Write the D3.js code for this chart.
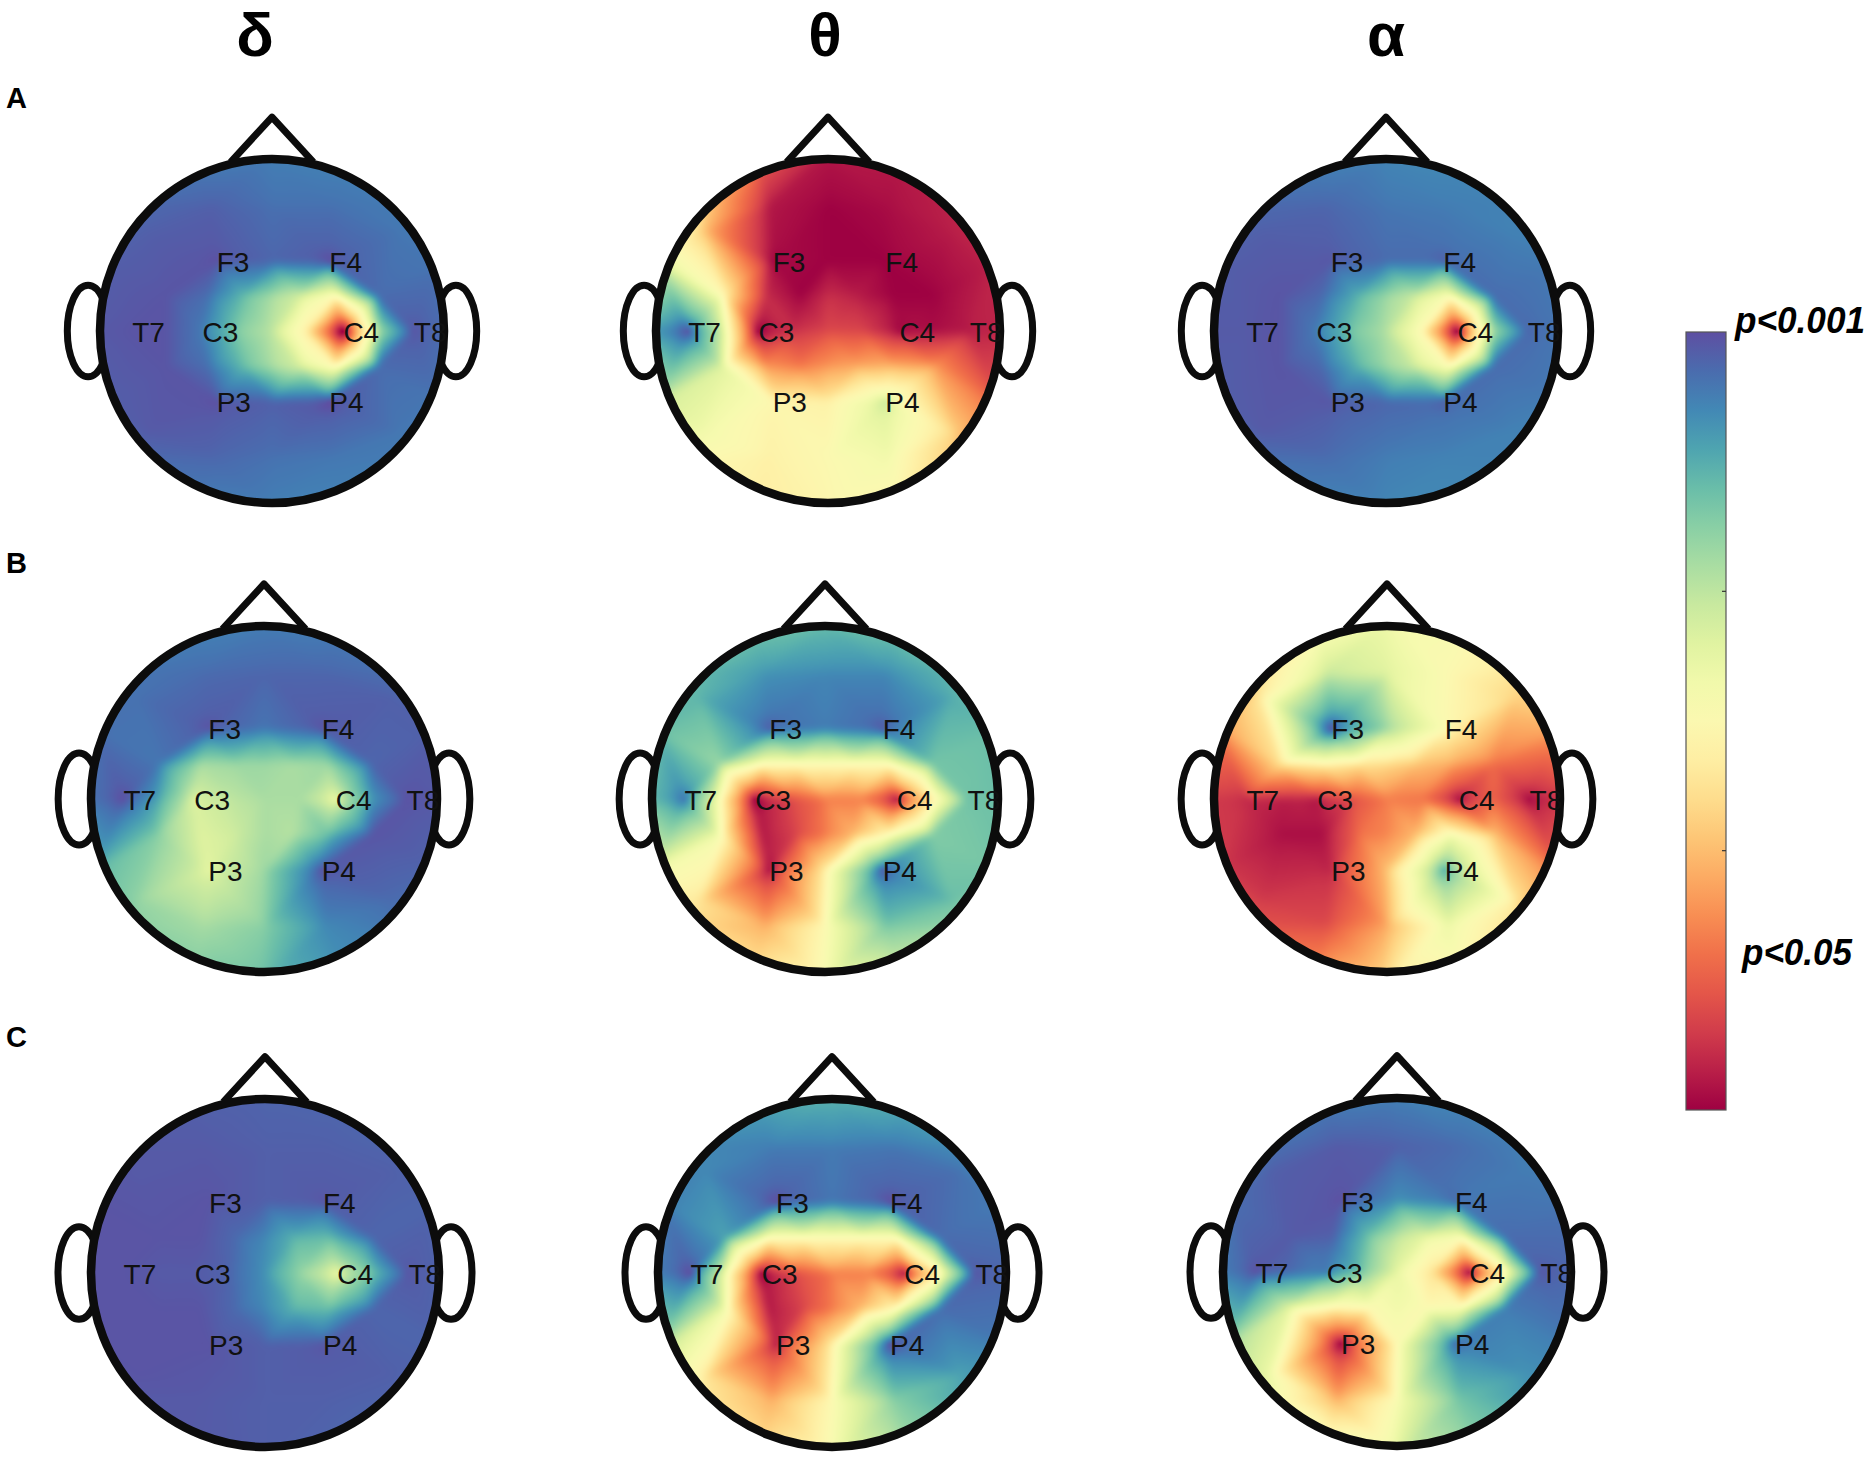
<!DOCTYPE html>
<html><head><meta charset="utf-8">
<script src="https://cdn.jsdelivr.net/npm/d3@7"></script>
<style>html,body{margin:0;padding:0;background:#fff}svg{display:block}text{font-family:"Liberation Sans",Arial,sans-serif}</style>
</head><body><svg id="c" width="1873" height="1465"></svg>
<script>
// band titles, row letters, electrodes
const bands = ["δ","θ","α"];
const rows = ["A","B","C"];
const electrodes = ["T7","C3","C4","T8","F3","F4","P3","P4"];
const ticks = [1/3,2/3];
// sampling sites on the scalp, head radius = 1 (8 electrodes first, then read-off sites)
const sites = [[-.8,0],[-.4,0],[.4,0],[.8,0],[-.32,-.4],[.32,-.4],[-.32,.4],[.32,.4],
 [-.2,0],[0,0],[.2,0],[0,-.4],[0,.4],
 [-.71,-.57],[-.34,-.71],[0,-.71],[.34,-.71],[.71,-.57],
 [-.71,.57],[-.34,.71],[0,.71],[.34,.71],[.71,.57],
 [-.36,-.2],[-.16,-.2],[0,-.2],[.16,-.2],[.36,-.2],
 [-.36,.2],[-.16,.2],[0,.2],[.16,.2],[.36,.2],
 [-.6,-.2],[-.6,.2],[.6,-.2],[.6,.2],[-.6,0],[.6,0],
 [0,-1.03],[.394,-.952],[.728,-.728],[.952,-.394],[1.03,0],[.952,.394],[.728,.728],[.394,.952],
 [0,1.03],[-.394,.952],[-.728,.728],[-.952,.394],[-1.03,0],[-.952,-.394],[-.728,-.728],[-.394,-.952]];
const rimStart = 39;
// map values (0 = dark red end of colour bar, 1 = purple end), same order as sites
const mapA_delta=[.99,.92,0,.98,.99,.98,.99,.99, .76,.66,.42,.96,.97, .97,.97,.94,.94,.93, .98,.96,.94,.93,.93, .94,.8,.7,.62,.48, .94,.8,.7,.62,.48, .99,.99,.95,.95,.99,.68, .91,.91,.92,.93,.94,.93,.92,.91,.91,.92,.95,.97,.98,.97,.95,.92];
const mapA_theta=[.97,.02,.03,.05,.02,0,.48,.62, .08,.13,.12,0,.46, .35,.04,0,.02,.05, .55,.46,.5,.55,.38, .08,0,.08,.05,0, .27,.22,.27,.3,.32, .5,.6,0,.28,.62,.02, .04,.04,.06,.06,.06,.17,.33,.48,.48,.45,.5,.63,.85,.6,.42,.18];
const mapA_alpha=[.98,.92,.03,.95,.98,.95,.98,.95, .78,.68,.48,.95,.96, .97,.96,.93,.92,.91, .98,.95,.92,.91,.91, .95,.82,.72,.64,.5, .95,.82,.72,.64,.5, .99,.99,.95,.95,.99,.68, .9,.9,.91,.92,.93,.92,.91,.9,.9,.91,.94,.97,.98,.97,.95,.91];
const mapB_delta=[.99,.62,.6,.99,.98,.98,.6,.98, .66,.7,.7,.93,.72, .94,.95,.96,.96,.97, .73,.7,.75,.9,.95, .7,.72,.72,.7,.72, .6,.64,.7,.68,.8, .93,.75,.96,.99,.85,.86, .91,.92,.94,.97,.98,.96,.93,.88,.8,.76,.75,.82,.92,.94,.93,.91];
const mapB_theta=[.91,.03,.08,.78,.95,.96,.05,.95, .12,.22,.22,.92,.46, .82,.88,.9,.9,.84, .42,.3,.5,.78,.8, .5,.5,.5,.5,.5, .03,.12,.22,.33,.5, .72,.55,.78,.76,.52,.42, .78,.78,.8,.8,.8,.78,.72,.62,.53,.42,.4,.55,.78,.8,.8,.78];
const mapB_alpha=[.08,.06,.05,.03,.96,.5,.07,.8, .13,.22,.2,.72,.35, .45,.65,.6,.5,.38, .1,.13,.3,.57,.45, .47,.42,.4,.35,.3, .02,.2,.24,.33,.55, .42,.02,.2,.35,.05,.18, .55,.52,.42,.3,.1,.2,.38,.5,.42,.26,.15,.1,.1,.25,.38,.5];
const mapC_delta=[.99,.98,.6,.98,.99,.98,.99,.98, .96,.88,.72,.97,.97, .98,.98,.97,.97,.97, .99,.98,.97,.97,.97, .99,.95,.9,.82,.8, .99,.95,.9,.82,.8, .99,.99,.96,.96,.98,.78, .96,.96,.96,.96,.96,.96,.96,.96,.97,.98,.98,.99,.99,.99,.98,.97];
const mapC_theta=[.98,.03,.08,.97,.98,.98,.07,.97, .13,.22,.22,.93,.46, .9,.92,.92,.93,.94, .42,.3,.5,.75,.85, .5,.5,.5,.5,.5, .03,.12,.22,.33,.5, .85,.55,.95,.95,.55,.45, .8,.83,.88,.92,.96,.92,.85,.7,.53,.4,.45,.68,.9,.92,.9,.85];
const mapC_alpha=[.98,.9,.06,.97,.99,.93,.03,.92, .78,.58,.4,.88,.5, .97,.98,.97,.95,.92, .55,.3,.52,.78,.88, .97,.78,.66,.58,.52, .47,.5,.55,.5,.52, .98,.58,.95,.92,.95,.45, .9,.9,.91,.93,.96,.92,.87,.73,.6,.55,.58,.72,.9,.94,.93,.92];
// head centres and outer radii
const panelRows = ["A","A","A","B","B","B","C","C","C"];
const panelBands = ["δ","θ","α","δ","θ","α","δ","θ","α"];
const panelCx = [272,828,1386,264,825,1387,265,832,1397];
const panelCy = [331,331,331,799,799,799,1273,1273,1272];
const panelR  = [176,176,176,177,177,177,178,178,178];
const panelMaps = [mapA_delta,mapA_theta,mapA_alpha,mapB_delta,mapB_theta,mapB_alpha,mapC_delta,mapC_theta,mapC_alpha];

const color = d3.scaleSequential(d3.interpolateSpectral).domain([0,1]);
const lut = d3.range(1025).map(i=>{const c=d3.rgb(color(i/1024));return [c.r,c.g,c.b];});
const svg = d3.select("#c");
const defs = svg.append("defs");
const ink = "#0c0c0c";
const POWER = .8, BLUR = 5, CONE = 22;

function blur(a,w,h,r){
  const b=new Float32Array(a.length);
  for(let y=0;y<h;y++)for(let x=0;x<w;x++){let s=0,n=0;for(let k=-r;k<=r;k++){const X=x+k;if(X>=0&&X<w){s+=a[y*w+X];n++;}}b[y*w+x]=s/n;}
  for(let y=0;y<h;y++)for(let x=0;x<w;x++){let s=0,n=0;for(let k=-r;k<=r;k++){const Y=y+k;if(Y>=0&&Y<h){s+=b[Y*w+x];n++;}}a[y*w+x]=s/n;}
}
function render(values,xs,ys,x0,y0,size){
  const pts=sites.map(s=>[xs(s[0])-x0,ys(s[1])-y0]);
  const vals=values.slice();
  sites.slice(rimStart).forEach((s,i)=>{pts.push([xs(s[0]*1.5)-x0,ys(s[1]*1.5)-y0]);vals.push(values[rimStart+i]);});
  const tri=d3.Delaunay.from(pts).triangles;
  const g=new Float32Array(size*size).fill(.5);
  for(let t=0;t<tri.length;t+=3){
    const [i,j,k]=[tri[t],tri[t+1],tri[t+2]];
    const [ax,ay]=pts[i],[bx,by]=pts[j],[cx,cy]=pts[k];
    const d=(by-cy)*(ax-cx)+(cx-bx)*(ay-cy);
    const X0=Math.max(0,Math.floor(Math.min(ax,bx,cx))),X1=Math.min(size-1,Math.ceil(Math.max(ax,bx,cx)));
    const Y0=Math.max(0,Math.floor(Math.min(ay,by,cy))),Y1=Math.min(size-1,Math.ceil(Math.max(ay,by,cy)));
    for(let y=Y0;y<=Y1;y++)for(let x=X0;x<=X1;x++){
      const l1=((by-cy)*(x-cx)+(cx-bx)*(y-cy))/d,l2=((cy-ay)*(x-cx)+(ax-cx)*(y-cy))/d,l3=1-l1-l2;
      if(l1<-1e-6||l2<-1e-6||l3<-1e-6)continue;
      const w1=Math.pow(Math.max(l1,0),POWER),w2=Math.pow(Math.max(l2,0),POWER),w3=Math.pow(Math.max(l3,0),POWER);
      g[y*size+x]=(w1*vals[i]+w2*vals[j]+w3*vals[k])/(w1+w2+w3);
    }
  }
  blur(g,size,size,BLUR);blur(g,size,size,BLUR-2);
  electrodes.forEach((e,i)=>{
    const px=pts[i][0],py=pts[i][1],res=vals[i]-g[Math.round(py)*size+Math.round(px)];
    for(let y=Math.max(0,Math.floor(py-CONE));y<=Math.min(size-1,py+CONE);y++)for(let x=Math.max(0,Math.floor(px-CONE));x<=Math.min(size-1,px+CONE);x++){
      const r=Math.hypot(x-px,y-py)/CONE; if(r<1) g[y*size+x]+=res*(1-r)*(1-r);
    }
  });
  const cv=document.createElement("canvas");cv.width=cv.height=size;
  const ctx=cv.getContext("2d"),im=ctx.createImageData(size,size);
  for(let n=0;n<g.length;n++){const c=lut[Math.max(0,Math.min(1024,Math.round(g[n]*1024)))];im.data[4*n]=c[0];im.data[4*n+1]=c[1];im.data[4*n+2]=c[2];im.data[4*n+3]=255;}
  ctx.putImageData(im,0,0);
  return cv.toDataURL();
}
panelMaps.forEach((vals,p)=>{
  const cx=panelCx[p],cy=panelCy[p],R=panelR[p];
  const xs=d3.scaleLinear().domain([-1,1]).range([cx-R,cx+R]);
  const ys=d3.scaleLinear().domain([-1,1]).range([cy-R,cy+R]);
  const g=svg.append("g").attr("class","head "+panelRows[p]+panelBands[p]);
  [-1,1].forEach(s=>g.append("ellipse").attr("cx",xs(s*1.045)).attr("cy",cy).attr("rx",R*.118).attr("ry",R*.26)
    .attr("fill","#fff").attr("stroke",ink).attr("stroke-width",7));
  g.append("path").attr("d",d3.line()([[xs(-.235),ys(-.96)],[xs(0),ys(-1.215)],[xs(.235),ys(-.96)]]))
    .attr("fill","#fff").attr("stroke",ink).attr("stroke-width",7).attr("stroke-linejoin","round");
  const rIn=R-4, size=Math.ceil(2*R*1.12), x0=Math.round(cx-size/2), y0=Math.round(cy-size/2);
  const id="clip"+p;
  defs.append("clipPath").attr("id",id).append("circle").attr("cx",cx).attr("cy",cy).attr("r",rIn);
  g.append("image").attr("x",x0).attr("y",y0).attr("width",size).attr("height",size)
    .attr("href",render(vals,xs,ys,x0,y0,size)).attr("clip-path","url(#"+id+")");
  g.append("circle").attr("cx",cx).attr("cy",cy).attr("r",rIn).attr("fill","none").attr("stroke",ink).attr("stroke-width",8.5);
  g.selectAll("text").data(electrodes).join("text")
    .attr("x",(d,i)=>xs(sites[i][0])+1).attr("y",(d,i)=>ys(sites[i][1])+1).attr("dy",".36em")
    .attr("font-size",28).attr("fill","#111").text(d=>d);
});
const titleX=[255,825,1386];
svg.selectAll("text.band").data(bands).join("text").attr("class","band")
  .attr("x",(d,i)=>titleX[i]).attr("y",(d,i)=>56).attr("text-anchor","middle")
  .attr("font-size",62).attr("font-weight","bold").attr("fill","#000").text(d=>d);
const rowY=[108,573,1047];
svg.selectAll("text.row").data(rows).join("text").attr("class","row")
  .attr("x",6).attr("y",(d,i)=>rowY[i]).attr("font-size",29).attr("font-weight","bold").attr("fill","#000").text(d=>d);
const barX=1686,barW=40,barTop=332,barBot=1110;
const by=d3.scaleLinear().domain([1,0]).range([barTop,barBot]);
const grad=defs.append("linearGradient").attr("id","bar").attr("x1",0).attr("y1",0).attr("x2",0).attr("y2",1);
d3.range(0,1.0001,.05).forEach(t=>grad.append("stop").attr("offset",t).attr("stop-color",color(1-t)));
svg.append("rect").attr("x",barX).attr("y",by(1)).attr("width",barW).attr("height",by(0)-by(1))
  .attr("fill","url(#bar)").attr("stroke","#555").attr("stroke-width",1.2);
svg.selectAll("line.tick").data(ticks).join("line").attr("class","tick")
  .attr("x1",barX+barW-4).attr("x2",barX+barW).attr("y1",d=>by(d)).attr("y2",d=>by(d)).attr("stroke","#333").attr("stroke-width",1.2);
const barLabels=["p<0.001","p<0.05"],barLabelX=[1735,1742],barLabelY=[333,965],barLabelW=[130,110];
svg.selectAll("text.bl").data(barLabels).join("text").attr("class","bl")
  .attr("x",(d,i)=>barLabelX[i]).attr("y",(d,i)=>barLabelY[i]).attr("textLength",(d,i)=>barLabelW[i]).attr("lengthAdjust","spacingAndGlyphs")
  .attr("font-size",36).attr("font-weight","bold").attr("font-style","italic").attr("fill","#000").text(d=>d);
</script></body></html>
